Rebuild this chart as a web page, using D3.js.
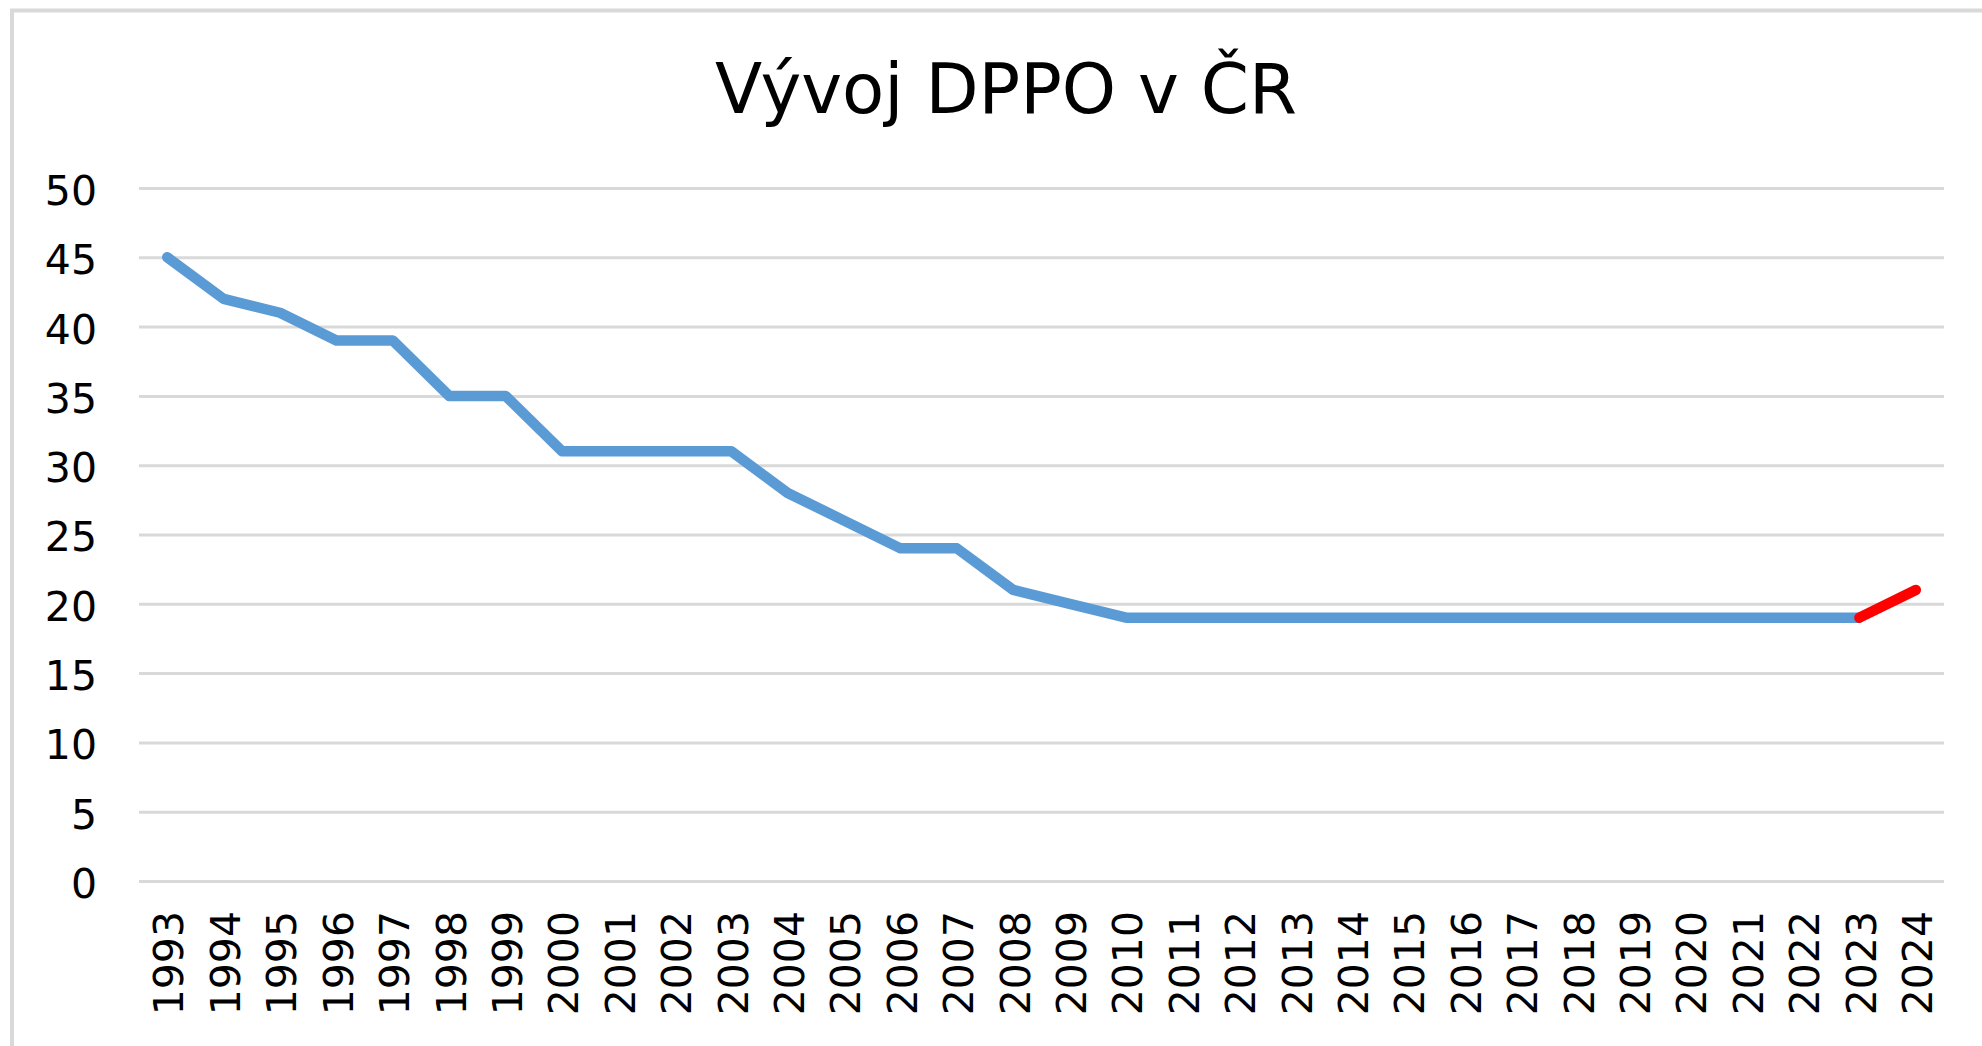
<!DOCTYPE html>
<html>
<head>
<meta charset="utf-8">
<script src="https://cdn.jsdelivr.net/npm/d3@7.9.0/dist/d3.min.js"></script>
<style>
  html, body { margin: 0; padding: 0; background: #fff; }
  svg { display: block; font-family: "DejaVu Sans", Verdana, sans-serif; }
</style>
</head>
<body>
<svg id="chart" width="1982" height="1046"></svg>
<script>
// roky a sazba DPPO (%)
const years = ['1993','1994','1995','1996','1997','1998','1999','2000','2001','2002','2003',
  '2004','2005','2006','2007','2008','2009','2010','2011','2012','2013','2014','2015','2016',
  '2017','2018','2019','2020','2021','2022','2023','2024'];
const rates = [45, 42, 41, 39, 39, 35, 35, 31, 31, 31, 31,
  28, 26, 24, 24, 21, 20, 19, 19, 19, 19, 19, 19, 19,
  19, 19, 19, 19, 19, 19, 19, 21];
const yTicks = [0, 5, 10, 15, 20, 25, 30, 35, 40, 45, 50];
const chartTitle = 'Vývoj DPPO v ČR';

const svg = d3.select('#chart');

const plotLeft = 139, plotRight = 1944, plotTop = 188, plotBottom = 881;

let x = d3.scalePoint().domain(years).range([plotLeft, plotRight]).padding(0.5);
let y = d3.scaleLinear().domain([0, 50]).range([plotBottom, plotTop]);

// rámeček grafu
svg.append('path')
  .attr('d', `M12,1046 L12,10.5 L1982,10.5`)
  .attr('fill', 'none')
  .attr('stroke', '#d9d9d9')
  .attr('stroke-width', 4);

// titulek
svg.append('text')
  .attr('x', 1006)
  .attr('y', 113)
  .attr('text-anchor', 'middle')
  .attr('font-size', 69)
  .attr('fill', '#000')
  .text(chartTitle);

// mřížka + popisky osy y
let yAxis = svg.append('g')
  .attr('transform', `translate(${plotLeft},0)`)
  .call(d3.axisLeft(y).tickValues(yTicks).tickSize(-(plotRight - plotLeft)).tickPadding(42));
yAxis.select('.domain').remove();
yAxis.selectAll('.tick line').attr('stroke', '#d9d9d9').attr('stroke-width', 3);
yAxis.selectAll('.tick text')
  .attr('font-size', 41)
  .attr('dy', '0.4em')
  .attr('fill', '#000')
  .attr('font-family', '"DejaVu Sans", Verdana, sans-serif');

// osa x – svislé popisky let
let xAxis = svg.append('g')
  .attr('transform', `translate(0,${plotBottom})`)
  .call(d3.axisBottom(x).tickSize(0));
xAxis.select('.domain').remove();
xAxis.selectAll('.tick text')
  .attr('font-size', 41)
  .attr('fill', '#000')
  .attr('font-family', '"DejaVu Sans", Verdana, sans-serif')
  .attr('text-anchor', 'end')
  .attr('dy', '0.36em')
  .attr('transform', 'translate(1,30) rotate(-90)')
  .attr('x', 0)
  .attr('y', 0);

// čára
let data = years.map((yr, i) => ({ year: yr, value: rates[i] }));
let line = d3.line().x(d => x(d.year)).y(d => y(d.value));

let n = data.length;
svg.append('path')
  .datum(data.slice(0, n - 1))
  .attr('d', line)
  .attr('fill', 'none')
  .attr('stroke', '#5b9bd5')
  .attr('stroke-width', 10.5)
  .attr('stroke-linejoin', 'round')
  .attr('stroke-linecap', 'round');

svg.append('path')
  .datum(data.slice(n - 2))
  .attr('d', line)
  .attr('fill', 'none')
  .attr('stroke', '#ff0000')
  .attr('stroke-width', 10.5)
  .attr('stroke-linecap', 'round');
</script>
</body>
</html>
